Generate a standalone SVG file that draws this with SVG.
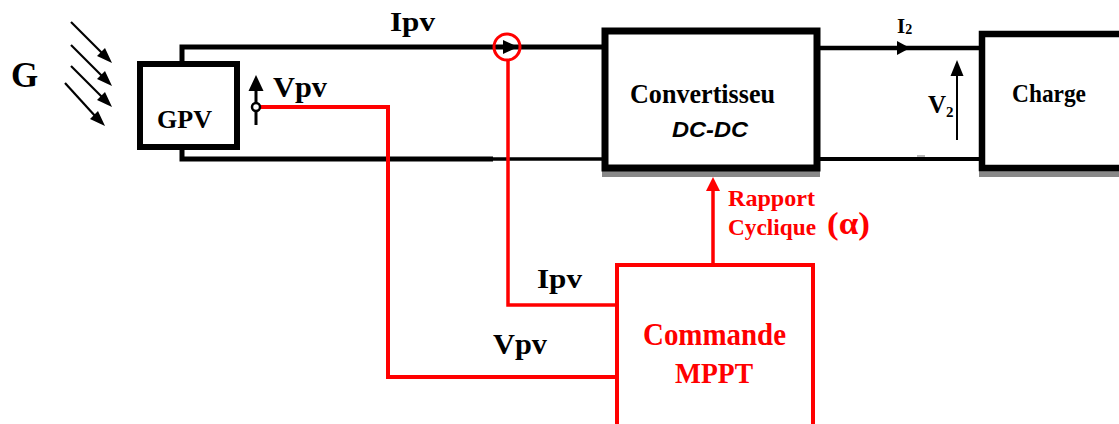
<svg xmlns="http://www.w3.org/2000/svg" width="1119" height="424" viewBox="0 0 1119 424">
<style>
.t{font-family:"Liberation Serif","Times New Roman",serif;font-weight:bold;fill:#000}
.r{fill:#ff0000}
.w{fill:none;stroke:#000;stroke-linecap:butt}
.rw{fill:none;stroke:#ff0000;stroke-linejoin:miter}
.box{fill:#fff;stroke:#000}
</style>
<rect width="1119" height="424" fill="#fff"/>

<!-- irradiance -->
<g id="irradiance">
<text class="t" x="11" y="87" font-size="35">G</text>
<g fill="#000">
<line x1="71" y1="22" x2="103" y2="54" stroke="#000" stroke-width="2.2"/><polygon points="112,63 97,56 105,48"/>
<line x1="71" y1="45" x2="103" y2="77" stroke="#000" stroke-width="2.2"/><polygon points="112,86 97,79 105,71"/>
<line x1="71" y1="66" x2="103" y2="98" stroke="#000" stroke-width="2.2"/><polygon points="112,107 97,100 105,92"/>
<line x1="65" y1="83" x2="96" y2="117" stroke="#000" stroke-width="2.2"/><polygon points="105,126 90,119 98,111"/>
</g>
</g>

<g id="connectors">
<!-- power lines -->
<polyline class="w" points="182,64 182,47 602,47" stroke-width="5"/>
<polyline class="w" points="182,147 182,159 493,159" stroke-width="5"/>
<line class="w" x1="490" y1="159" x2="603" y2="159" stroke-width="3.5"/>
<line class="w" x1="819" y1="48" x2="980" y2="48" stroke-width="4.5"/>
<line class="w" x1="819" y1="159" x2="980" y2="159" stroke-width="4"/>
<polygon points="910,48 897,41 897,55" fill="#000"/>
<!-- Vpv arrow -->
<line class="w" x1="256" y1="125" x2="256" y2="88" stroke-width="3"/>
<polygon points="256,75 248.5,91 263.5,91" fill="#000"/>
<!-- V2 arrow -->
<line class="w" x1="957" y1="140" x2="957" y2="72" stroke-width="2"/>
<polygon points="957,60 950.5,76 963.5,76" fill="#000"/>
<rect x="917" y="155" width="8" height="2" fill="#bbb"/>
<!-- current sensor -->
<circle cx="507" cy="47" r="13" fill="none" stroke="#ff0000" stroke-width="3"/>
<polygon points="518,47 503,40 503,54" fill="#000"/>
<!-- red measurement lines -->
<polyline class="rw" points="260,107 388,107 388,377 617,377" stroke-width="4"/>
<polyline class="rw" points="508,60 508,305 617,305" stroke-width="3.5"/>
<circle cx="256" cy="107" r="4" fill="#fff" stroke="#000" stroke-width="2.5"/>
<line class="rw" x1="713" y1="265" x2="713" y2="188" stroke-width="3.5"/>
<polygon points="713,177 706,191 720,191" fill="#ff0000"/>
</g>

<g id="gpv">
<rect class="box" x="140" y="64" width="97" height="83" stroke-width="6"/>
<text class="t" x="157" y="128" font-size="26" textLength="55" lengthAdjust="spacingAndGlyphs">GPV</text>
</g>

<g id="converter">
<rect x="602" y="168" width="218" height="9" fill="#888"/>
<rect class="box" x="605" y="31" width="212" height="137" stroke-width="7"/>
<text class="t" x="630" y="103" font-size="27" textLength="145" lengthAdjust="spacingAndGlyphs">Convertisseu</text>
<text x="672" y="137" font-size="22" font-family="Liberation Sans, Arial, sans-serif" font-weight="bold" font-style="italic" textLength="76" lengthAdjust="spacingAndGlyphs">DC-DC</text>
</g>

<g id="charge">
<rect x="979" y="168" width="150" height="9" fill="#888"/>
<rect class="box" x="982" y="34" width="150" height="134" stroke-width="6.5"/>
<text class="t" x="1012" y="102" font-size="25" textLength="74" lengthAdjust="spacingAndGlyphs">Charge</text>
</g>

<g id="mppt">
<rect x="617" y="265" width="196" height="170" fill="#fff" stroke="#ff0000" stroke-width="4"/>
<text class="t r" x="643" y="345" font-size="32" textLength="143" lengthAdjust="spacingAndGlyphs">Commande</text>
<text class="t r" x="675" y="383" font-size="30" textLength="78" lengthAdjust="spacingAndGlyphs">MPPT</text>
</g>

<g id="labels">
<text class="t" x="390" y="31" font-size="28" textLength="45" lengthAdjust="spacingAndGlyphs">Ipv</text>
<text class="t" x="273" y="97" font-size="30" textLength="54" lengthAdjust="spacingAndGlyphs">Vpv</text>
<text class="t" x="897" y="33" font-size="21">I<tspan font-size="14" dy="1">2</tspan></text>
<text class="t" x="928" y="113" font-size="25">V<tspan font-size="15" dy="4">2</tspan></text>
<text class="t" x="537" y="288" font-size="28" textLength="45" lengthAdjust="spacingAndGlyphs">Ipv</text>
<text class="t" x="493" y="354" font-size="29" textLength="54" lengthAdjust="spacingAndGlyphs">Vpv</text>
<text class="t r" x="728" y="206" font-size="24" textLength="87" lengthAdjust="spacingAndGlyphs">Rapport</text>
<text class="t r" x="728" y="235" font-size="24" textLength="88" lengthAdjust="spacingAndGlyphs">Cyclique</text>
<text class="t r" x="827" y="234" font-size="32" textLength="43" lengthAdjust="spacingAndGlyphs">(α)</text>
</g>
</svg>
